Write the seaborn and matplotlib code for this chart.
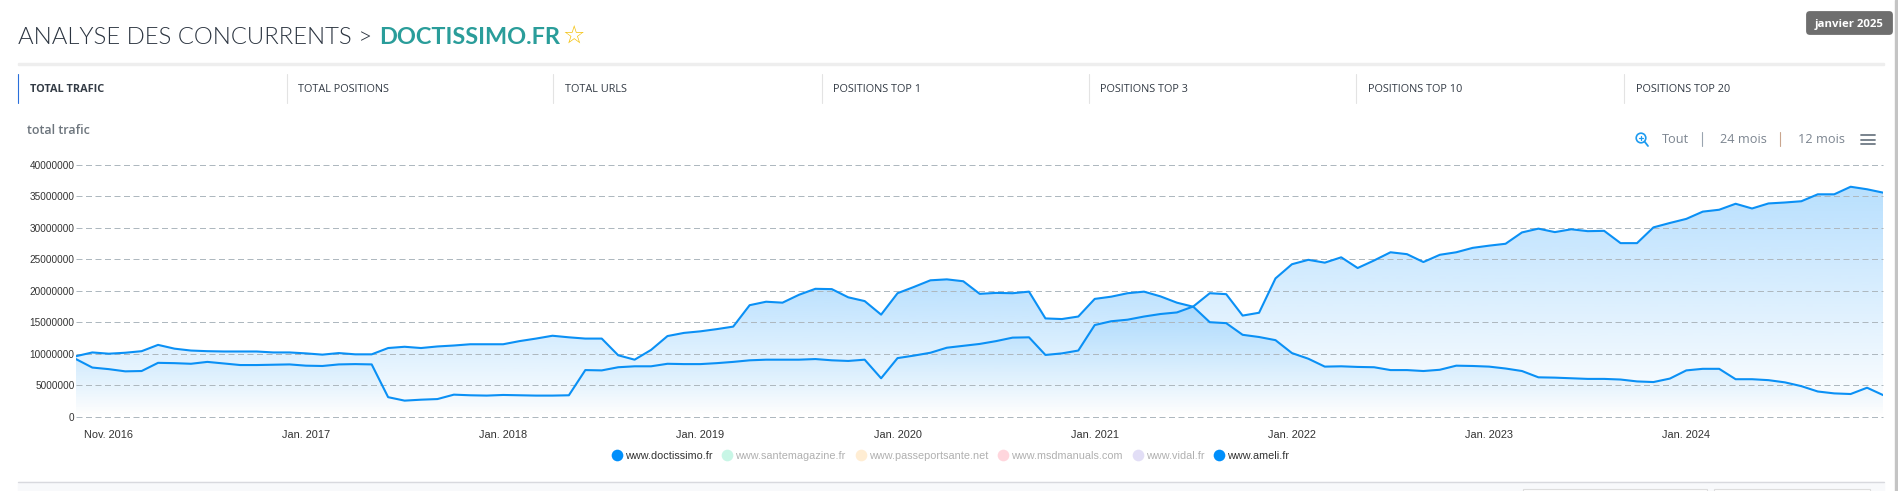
import numpy as np
import pandas as pd
import matplotlib
matplotlib.use("Agg")
import matplotlib.pyplot as plt
import seaborn as sns
from matplotlib.lines import Line2D
from matplotlib.patches import Circle, FancyBboxPatch, Polygon, Rectangle

W, H = 1898, 491

# monthly values in millions, nov 2015 -> jan 2025
doctissimo = [9.6, 10.2, 10.0, 10.15, 10.4, 11.4, 10.8, 10.5, 10.4, 10.35, 10.35, 10.35, 10.2, 10.2, 10.05,
              9.85, 10.1, 9.9, 9.9, 10.9, 11.1, 10.9, 11.15, 11.3, 11.5, 11.5, 11.5, 12.0, 12.4,
              12.85, 12.6, 12.4, 12.4, 9.75, 9.05, 10.6, 12.8, 13.3, 13.55, 13.9, 14.3, 17.7, 18.25, 18.1,
              19.35, 20.3, 20.25, 18.95, 18.35, 16.2, 19.6, 20.6, 21.65, 21.8, 21.5, 19.5, 19.65,
              19.6, 19.85, 15.6, 15.5, 15.9, 18.7, 19.05, 19.6, 19.85, 19.1, 18.1, 17.45, 15.0, 14.85,
              13.0, 12.65, 12.15, 10.1, 9.2, 7.95, 8.0, 7.9, 7.85, 7.4, 7.4, 7.25, 7.45, 8.1,
              8.05, 7.95, 7.65, 7.25, 6.25, 6.2, 6.1, 6.0, 6.0, 5.9, 5.6, 5.5, 6.05, 7.35, 7.6, 7.6,
              5.95, 5.95, 5.8, 5.45, 4.85, 4.0, 3.7, 3.6, 4.6, 3.4]
ameli = [9.15, 7.8, 7.55, 7.2, 7.25, 8.55, 8.5, 8.4, 8.7, 8.45, 8.2, 8.2, 8.25, 8.3, 8.1,
         8.05, 8.3, 8.35, 8.3, 3.1, 2.55, 2.7, 2.8, 3.5, 3.4, 3.35, 3.45, 3.4, 3.35,
         3.35, 3.4, 7.4, 7.35, 7.85, 8.0, 8.0, 8.4, 8.35, 8.35, 8.5, 8.7, 8.95, 9.05, 9.05,
         9.05, 9.15, 8.95, 8.85, 9.05, 6.1, 9.3, 9.7, 10.15, 10.95, 11.25, 11.55, 12.0,
         12.55, 12.6, 9.8, 10.05, 10.5, 14.55, 15.15, 15.4, 15.9, 16.3, 16.55, 17.5, 19.6, 19.45,
         16.05, 16.5, 21.95, 24.2, 24.9, 24.45, 25.3, 23.6, 24.8, 26.1, 25.8, 24.55, 25.7, 26.1,
         26.8, 27.15, 27.45, 29.25, 29.85, 29.3, 29.75, 29.45, 29.5, 27.55, 27.55, 30.05, 30.75,
         31.4, 32.55, 32.85, 33.8, 33.05, 33.85, 34.0, 34.2, 35.3, 35.3, 36.5, 36.1, 35.55]
months = [str(p) for p in pd.period_range("2015-11", periods=len(ameli), freq="M")]

tick_months = ["2016-01", "2017-01", "2018-01", "2019-01", "2020-01", "2021-01", "2022-01", "2023-01", "2024-01"]
tick_labels = ["Nov. 2016", "Jan. 2017", "Jan. 2018", "Jan. 2019", "Jan. 2020", "Jan. 2021", "Jan. 2022", "Jan. 2023", "Jan. 2024"]
y_ticks = [0, 5000000, 10000000, 15000000, 20000000, 25000000, 30000000, 35000000, 40000000]

tabs = ["TOTAL TRAFIC", "TOTAL POSITIONS", "TOTAL URLS", "POSITIONS TOP 1", "POSITIONS TOP 3", "POSITIONS TOP 10", "POSITIONS TOP 20"]
legend_names = ["www.doctissimo.fr", "www.santemagazine.fr", "www.passeportsante.net", "www.msdmanuals.com", "www.vidal.fr", "www.ameli.fr"]
legend_colors = ["#008ffb", "#c8f6e6", "#ffedd3", "#ffd6dd", "#e2def6", "#008ffb"]
legend_active = [True, False, False, False, False, True]

BLUE = "#0a90f5"

sns.set_theme(style="white")
plt.rcParams["font.family"] = ["Open Sans", "DejaVu Sans"]


def fx(x):
    return x / W


def fy(y):
    return 1 - y / H


def put(x, y, s, **kw):
    kw.setdefault("va", "center")
    return fig.text(fx(x), fy(y), s, **kw)


fig = plt.figure(figsize=(W / 100, H / 100), dpi=100, facecolor="white")
ax = fig.add_axes([fx(75.9), fy(416.7), (1883.5 - 75.9) / W, (416.7 - 164.7) / H])
ax.patch.set_alpha(0)

df = pd.DataFrame({"month": months + months,
                   "trafic": [v * 1e6 for v in doctissimo] + [v * 1e6 for v in ameli],
                   "site": ["doc"] * len(months) + ["ameli"] * len(months)})
sns.lineplot(data=df, x="month", y="trafic", hue="site", palette=[BLUE, BLUE], legend=False,
             linewidth=1.5, sort=False, ax=ax, zorder=4)

# vertical gradient under each series
xs = np.arange(len(months))
ramp = np.zeros((256, 1, 4))
ramp[..., 0] = 0 / 255
ramp[..., 1] = 143 / 255
ramp[..., 2] = 251 / 255
ramp[..., 3] = np.linspace(0.28, 0, 256)[:, None]
for vals in (doctissimo, ameli):
    top = max(vals) * 1e6
    im = ax.imshow(ramp, extent=[0, xs[-1], 0, top], aspect="auto", origin="upper", zorder=1, interpolation="bilinear")
    verts = np.column_stack([np.r_[xs[0], xs, xs[-1]], np.r_[0, np.array(vals) * 1e6, 0]])
    clip = Polygon(verts, closed=True, transform=ax.transData, fill=False, edgecolor="none")
    ax.add_patch(clip)
    im.set_clip_path(clip)

ax.set_xlim(0, xs[-1])
ax.set_ylim(0, 40000000)
ax.set_xticks(tick_months)
ax.set_xticklabels(tick_labels, family="Liberation Sans", fontsize=7.9, color="#333333")
ax.set_yticks(y_ticks)
ax.set_yticklabels([str(v) for v in y_ticks], family="Liberation Sans", fontsize=7.2, color="#333333")
ax.tick_params(axis="both", length=0)
ax.tick_params(axis="x", pad=9.5)
ax.tick_params(axis="y", pad=1)
ax.set_xlabel("")
ax.set_ylabel("")
sns.despine(ax=ax, left=True, bottom=True)
ax.set_axisbelow(False)
ax.grid(axis="y", color="#aeb8bf", linewidth=0.72, linestyle=(0, (6, 3.5)), clip_on=False, zorder=2)
for gl in ax.get_ygridlines():
    gl.set_clip_on(False)
    gl.set_zorder(2)

# legend
handles = [Line2D([], [], linestyle="none", marker="o", markersize=8.4, markeredgewidth=0, color=c) for c in legend_colors]
leg = ax.legend(handles, legend_names, ncol=6, loc="center", bbox_to_anchor=(fx(951.5), fy(456)),
                bbox_transform=fig.transFigure, frameon=False, handlelength=0.6, handletextpad=0.45,
                columnspacing=1.08, prop={"family": "Liberation Sans", "size": 7.8})
for txt, on in zip(leg.get_texts(), legend_active):
    txt.set_color("#333333" if on else "#b0b0b0")

# page furniture around the chart
art = []
art.append(Rectangle((fx(18), fy(65)), (1884 - 18) / W, 2 / H, color="#eeeeee"))
art.append(Rectangle((fx(18), 0), (1884 - 18) / W, fy(482), color="#f8f9fb"))
art.append(Line2D([fx(18), fx(1884)], [fy(482), fy(482)], color="#d8d9de", linewidth=1))
art.append(Rectangle((fx(1523), 0), 184 / W, fy(489), facecolor="white", edgecolor="#dddddd", linewidth=0.8))
art.append(Rectangle((fx(1714), 0), 156 / W, fy(489), facecolor="white", edgecolor="#dddddd", linewidth=0.8))
art.append(Rectangle((fx(1895), 0), 3 / W, 1, color="#c4c4c4"))

tab_lines = [18, 286.5, 553, 822, 1088.5, 1356, 1624]
tab_text = [30, 297.5, 565, 833, 1100.5, 1368, 1635.5]
for i, (lx, tx, name) in enumerate(zip(tab_lines, tab_text, tabs)):
    art.append(Line2D([fx(lx), fx(lx)], [fy(74), fy(103)], color="#2a6fdb" if i == 0 else "#e3e3e3", linewidth=0.8))
    put(tx, 90, name, fontsize=7.8, color="#333b45", fontweight="bold" if i == 0 else "normal")

art.append(FancyBboxPatch((fx(1808), fy(33)), 83 / W, 20 / H, boxstyle="round,pad=0.001,rounding_size=0.002",
                          mutation_aspect=W / H, facecolor="#6e6e6e", edgecolor="none", transform=fig.transFigure))
put(1849.5, 24, "janvier 2025", fontsize=8.2, color="white", fontweight="bold", ha="center")

# title
put(18, 38, "ANALYSE DES CONCURRENTS >", family="Lato", fontweight=300, fontsize=17.2, color="#2b3440")
put(379, 38, "DOCTISSIMO.FR", family="Lato", fontweight="bold", fontsize=16.9, color="#2a9d9a")
put(574, 37, "\u2606", family="DejaVu Sans", fontsize=18, color="#f4c20d", ha="center")
put(27, 130, "total trafic", fontsize=9, color="#6d757d", fontweight="semibold")

# range selector
put(1661.5, 139.5, "Tout", fontsize=9.2, color="#7c8590")
put(1720, 139.5, "24 mois", fontsize=9.2, color="#7c8590")
put(1798, 139.5, "12 mois", fontsize=9.2, color="#7c8590")
art.append(Line2D([fx(1701.5)] * 2, [fy(132), fy(146)], color="#9aa4b0", linewidth=0.8))
art.append(Line2D([fx(1780)] * 2, [fy(132), fy(146)], color="#c9a58e", linewidth=0.8))
for yy in (135, 139.5, 144):
    art.append(Line2D([fx(1861), fx(1875)], [fy(yy), fy(yy)], color="#6e7985", linewidth=1.3))
art.append(Line2D([fx(1644.5), fx(1648)], [fy(141.5), fy(146)], color="#1e9bf0", linewidth=1.3))
art.append(Line2D([fx(1638.7), fx(1643.3)], [fy(138), fy(138)], color="#1e9bf0", linewidth=0.9))
art.append(Line2D([fx(1641), fx(1641)], [fy(135.7), fy(140.3)], color="#1e9bf0", linewidth=0.9))

for a in art:
    a.set_transform(fig.transFigure)
    fig.add_artist(a)

ring = Circle((1641, H - 138), 4.8, transform=matplotlib.transforms.Affine2D().scale(1 / W, 1 / H) + fig.transFigure,
              fill=False, edgecolor="#1e9bf0", linewidth=1.2)
fig.add_artist(ring)

fig.savefig("out.png", dpi=100, facecolor="white")
